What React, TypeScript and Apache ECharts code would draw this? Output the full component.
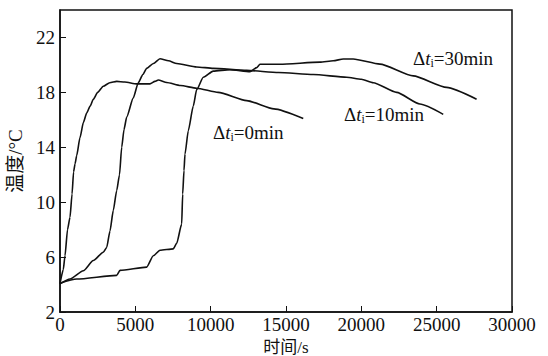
import React, { useEffect, useRef } from "react";
import * as echarts from "echarts";

const xTicks = [0, 5000, 10000, 15000, 20000, 25000, 30000];
const yTickLabels = ["2", "6", "10", "14", "18", "22"];

const curve0min: [number, number][] = [
  [0, 4.05], [219, 5.1], [332, 6.1], [500, 8.0], [664, 8.9], [800, 10.6], [900, 12.2],
  [1000, 12.8], [1108, 13.4], [1327, 14.7], [1550, 15.8], [1772, 16.5], [2000, 17.0],
  [2210, 17.5], [2500, 18.0], [2873, 18.45], [3300, 18.7], [3763, 18.8], [4300, 18.75],
  [5090, 18.62], [5972, 18.62], [6300, 18.8], [6523, 18.9], [7081, 18.72], [8000, 18.5],
  [9071, 18.3], [10500, 18.0], [12390, 17.4], [14200, 16.8], [16145, 16.1]
];

const curve10min: [number, number][] = [
  [0, 4.05], [664, 4.4], [1546, 5.0], [2210, 5.75], [2873, 6.35], [3099, 6.7],
  [3318, 7.9], [3537, 9.4], [3763, 10.85], [3950, 12.0], [4094, 14.0], [4250, 15.3],
  [4426, 16.2], [4864, 17.6], [5196, 18.7], [5500, 19.3], [5753, 19.75], [6200, 20.1],
  [6636, 20.45], [7200, 20.3], [7744, 20.1], [9071, 19.85], [10173, 19.75],
  [12390, 19.6], [14500, 19.45], [16809, 19.3], [19025, 19.1], [20000, 18.95],
  [20791, 18.7], [22344, 18.0], [23890, 17.15], [25436, 16.4]
];

const curve30min: [number, number][] = [
  [0, 4.1], [1108, 4.4], [3763, 4.67], [3982, 5.03], [5753, 5.27], [6191, 6.1],
  [6636, 6.5], [7518, 6.6], [7744, 7.0], [8076, 8.4], [8143, 10.6], [8229, 12.3],
  [8295, 13.5], [8514, 15.2], [8846, 17.0], [9071, 18.2], [9510, 19.1], [10173, 19.55],
  [11281, 19.65], [12608, 19.5], [13053, 19.8], [13272, 20.05], [14600, 20.05],
  [17254, 20.2], [18136, 20.3], [18800, 20.43], [19463, 20.43], [21235, 20.06],
  [23445, 19.2], [25662, 18.36], [27650, 17.5]
];

const seriesNames = ["Δti=0min", "Δti=10min", "Δti=30min"];
const seriesData = [curve0min, curve10min, curve30min];
const labelValues = ["0", "10", "30"];

const SERIF = "'Liberation Serif', 'Times New Roman', 'Noto Sans CJK SC', serif";
const INK = "#111";

function richLabel(v: string) {
  return `{d|Δ}{t|t}{s|i}{d|=${v}min}`;
}

const richStyle = {
  d: { fontFamily: SERIF, fontSize: 19, lineHeight: 22, fill: INK, verticalAlign: "middle" },
  t: { fontFamily: SERIF, fontSize: 19, lineHeight: 22, fontStyle: "italic", fill: INK, verticalAlign: "middle" },
  s: { fontFamily: SERIF, fontSize: 12, lineHeight: 12, fill: INK, verticalAlign: "bottom" },
};

export default function App() {
  const ref = useRef<HTMLDivElement>(null);
  useEffect(() => {
    document.body.style.margin = "0";
    if (!ref.current) return;
    const chart = echarts.init(ref.current, null, { renderer: "svg" });
    const labelPos = [
      [213, 121],
      [344, 103],
      [413, 47],
    ];
    chart.setOption({
      animation: false,
      backgroundColor: "#fff",
      grid: {
        left: 60,
        top: 10,
        right: 36,
        bottom: 44,
        show: true,
        borderColor: INK,
        borderWidth: 1.5,
        outerBoundsMode: "none",
        containLabel: false,
      },
      xAxis: {
        type: "value",
        min: xTicks[0],
        max: xTicks[xTicks.length - 1],
        interval: 5000,
        name: "时间/s",
        nameLocation: "middle",
        nameGap: 24,
        nameTextStyle: { fontFamily: SERIF, fontSize: 17, lineHeight: 18, color: INK },
        axisLine: { show: true, lineStyle: { color: INK, width: 1.5 } },
        axisTick: { show: true, inside: true, length: 6, lineStyle: { color: INK, width: 1 } },
        axisLabel: {
          fontFamily: SERIF,
          fontSize: 19,
          color: INK,
          margin: 3,
          formatter: (v: number) => (xTicks.includes(v) ? String(v) : ""),
        },
        splitLine: { show: false },
      },
      yAxis: {
        type: "value",
        min: 2,
        max: 24,
        interval: 4,
        name: "温度/°C",
        nameLocation: "middle",
        nameRotate: 90,
        nameGap: 28,
        nameTextStyle: { fontFamily: SERIF, fontSize: 19, color: INK },
        axisLine: { show: true, lineStyle: { color: INK, width: 1.5 } },
        axisTick: { show: true, inside: true, length: 6, lineStyle: { color: INK, width: 1 } },
        axisLabel: {
          fontFamily: SERIF,
          fontSize: 19,
          color: INK,
          margin: 5,
          showMaxLabel: false,
          formatter: (v: number) => (yTickLabels.includes(String(v)) ? String(v) : ""),
        },
        splitLine: { show: false },
      },
      series: seriesData.map((d, i) => ({
        name: seriesNames[i],
        type: "line",
        data: d,
        showSymbol: false,
        symbol: "none",
        smooth: 0.2,
        smoothMonotone: "x",
        lineStyle: { color: INK, width: 1.6 },
      })),
      graphic: labelValues.map((v, i) => ({
        type: "text",
        x: labelPos[i][0],
        y: labelPos[i][1],
        style: {
          text: richLabel(v),
          rich: richStyle,
          fill: INK,
          verticalAlign: "top",
          align: "left",
        },
      })),
    });
    return () => chart.dispose();
  }, []);
  return (
    <div
      ref={ref}
      style={{ position: "fixed", left: 0, top: 0, width: 548, height: 356, background: "#fff" }}
    />
  );
}
